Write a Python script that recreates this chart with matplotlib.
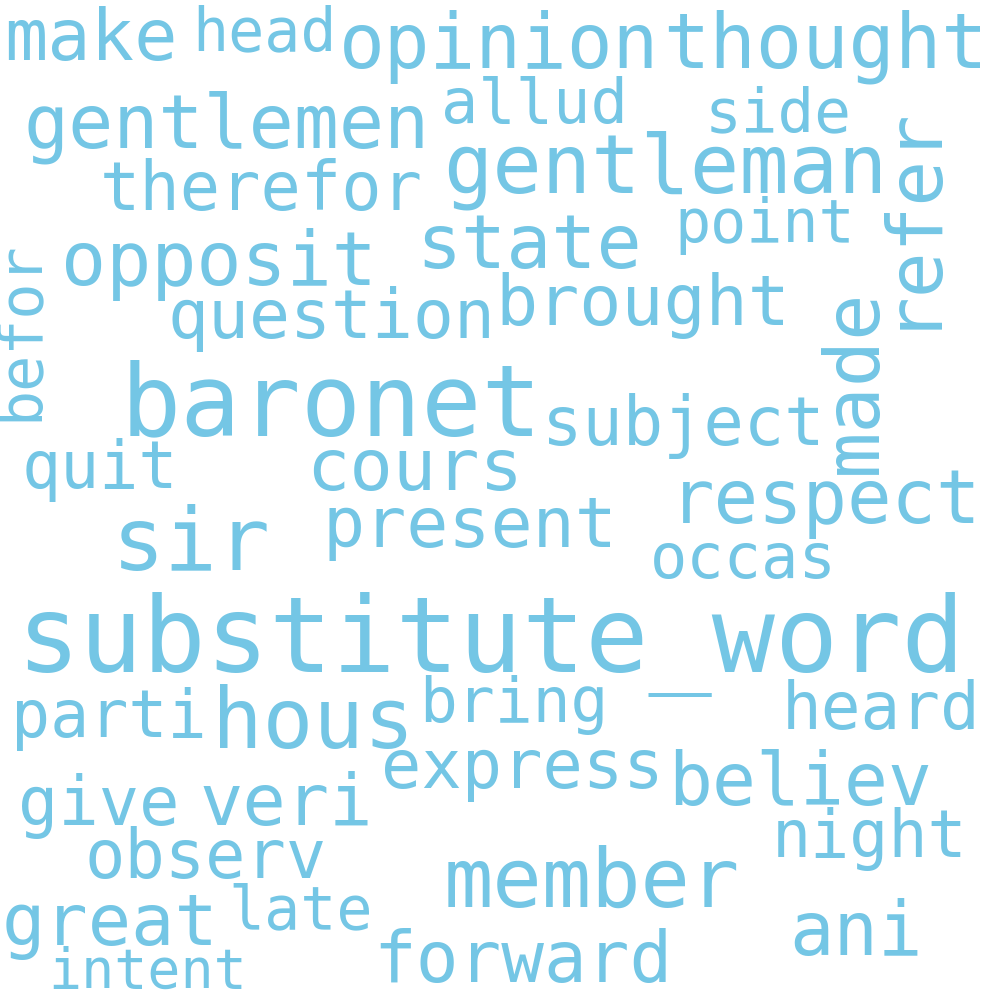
import matplotlib
matplotlib.use("Agg")
import matplotlib.pyplot as plt

# Word cloud data: words and their weights (rendered em size in px)
words = ["substitute_word", "baronet", "sir", "hous", "gentleman", "member",
         "thought", "opinion", "gentlemen", "made", "refer", "opposit",
         "state", "respect", "ani", "believ", "make", "cours", "great",
         "veri", "forward", "brought", "present", "question", "therefor",
         "express", "observ", "give", "subject", "heard", "parti", "night",
         "quit", "bring", "allud", "occas", "side", "point", "late", "head",
         "befor", "intent"]
weights = [105, 100, 88, 84, 82, 82,
           77, 76, 75, 77, 76, 75,
           75, 74, 74, 73, 72, 72, 72,
           72, 71, 70, 70, 68, 67,
           67, 67, 67, 67, 66, 65, 65,
           65, 63, 62, 62, 61, 60, 60, 60,
           60, 55]

# Layout (ink-centre x, baseline y, rotation) in 1000x1000 pixel space
layout_x = [490, 331, 191, 313, 665, 592,
            825, 499, 227, 876, 930, 219,
            529, 826, 856, 800, 91, 415, 110,
            286, 523, 643, 470, 331, 261,
            522, 206, 99, 683, 881, 109, 870,
            100, 514, 534, 743, 778, 765, 301, 264,
            37, 148]
layout_y = [672, 435, 570, 748, 193, 907,
            68, 68, 148, 381, 215, 285,
            268, 523, 955, 805, 60, 490, 945,
            825, 982, 325, 547, 338, 210,
            788, 878, 825, 445, 729, 737, 857,
            488, 722, 123, 578, 131, 242, 928, 50,
            331, 988]
layout_rot = [0, 0, 0, 0, 0, 0,
              0, 0, 0, 90, 90, 0,
              0, 0, 0, 0, 0, 0, 0,
              0, 0, 0, 0, 0, 0,
              0, 0, 0, 0, 0, 0, 0,
              0, 0, 0, 0, 0, 0, 0, 0,
              90, 0]

color = "#74C6E5"
dpi = 100
fig = plt.figure(figsize=(10, 10), dpi=dpi)
ax = fig.add_axes([0, 0, 1, 1])
ax.set_xlim(0, 1000)
ax.set_ylim(1000, 0)
ax.axis("off")
fig.patch.set_facecolor("white")

for w, s, x, y, r in zip(words, weights, layout_x, layout_y, layout_rot):
    ax.text(x, y, w, fontsize=s * 72 / dpi, family="DejaVu Sans Mono",
            color=color, ha="center", va="baseline", rotation=r,
            rotation_mode="anchor")

fig.savefig("out.png", dpi=dpi, facecolor="white")
